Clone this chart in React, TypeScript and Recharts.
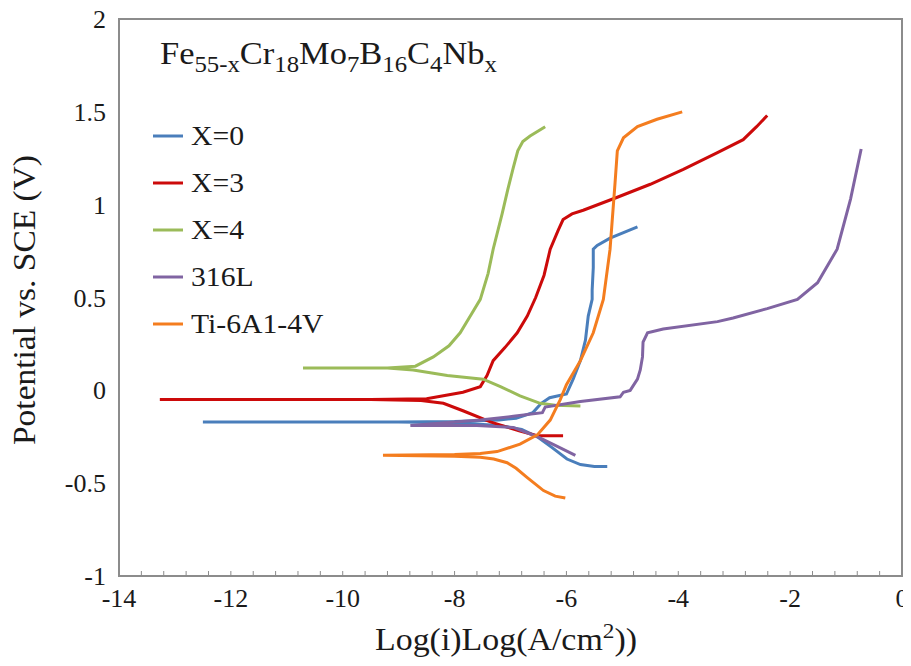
import { LineChart, Line, XAxis, YAxis, ReferenceArea, Legend, Customized } from 'recharts';

// [log(i), potential], cathodic end -> Ecorr tip -> anodic end
const x0Curve = [
  [-5.27, -0.41], [-5.5, -0.41], [-5.75, -0.4], [-5.99, -0.37], [-6.25, -0.31], [-6.52, -0.25],
  [-6.8, -0.21], [-7.2, -0.19], [-8.0, -0.175], [-9.0, -0.17], [-12.5, -0.17],
  [-9.0, -0.17], [-8.0, -0.168], [-7.2, -0.16], [-6.9, -0.15], [-6.6, -0.12], [-6.45, -0.07],
  [-6.3, -0.04], [-6.0, -0.02], [-5.88, 0.06], [-5.75, 0.16], [-5.66, 0.27], [-5.61, 0.4],
  [-5.54, 0.49], [-5.54, 0.54], [-5.52, 0.66], [-5.52, 0.76], [-5.45, 0.78], [-5.22, 0.82],
  [-4.98, 0.85], [-4.73, 0.88],
];

const x3Curve = [
  [-6.06, -0.245], [-6.52, -0.245], [-6.83, -0.22], [-7.36, -0.17], [-7.85, -0.11], [-8.2, -0.07],
  [-8.6, -0.055], [-9.5, -0.05], [-13.27, -0.05],
  [-9.5, -0.05], [-8.5, -0.045], [-7.85, -0.01], [-7.54, 0.02], [-7.42, 0.08], [-7.31, 0.16],
  [-7.1, 0.23], [-6.88, 0.31], [-6.7, 0.4], [-6.55, 0.5], [-6.4, 0.62], [-6.29, 0.76],
  [-6.15, 0.86], [-6.06, 0.92], [-5.9, 0.95], [-5.7, 0.97], [-5.09, 1.04], [-4.5, 1.11],
  [-3.91, 1.19], [-3.3, 1.28], [-2.84, 1.35], [-2.6, 1.42], [-2.41, 1.48],
];

const x4Curve = [
  [-5.75, -0.085], [-6.2, -0.08], [-6.47, -0.07], [-6.83, -0.03], [-7.18, 0.02], [-7.49, 0.06],
  [-8.13, 0.08], [-8.74, 0.11], [-9.2, 0.12], [-10.71, 0.12],
  [-9.2, 0.12], [-8.7, 0.13], [-8.38, 0.18], [-8.1, 0.24], [-7.9, 0.31], [-7.7, 0.41],
  [-7.54, 0.49], [-7.4, 0.63], [-7.31, 0.76], [-7.15, 0.95], [-7.05, 1.08], [-6.95, 1.2],
  [-6.87, 1.29], [-6.78, 1.34], [-6.65, 1.37], [-6.38, 1.42],
];

const ss316Curve = [
  [-5.84, -0.35], [-6.11, -0.31], [-6.52, -0.25], [-6.95, -0.2], [-7.6, -0.19], [-8.79, -0.19],
  [-7.54, -0.16], [-6.95, -0.14], [-6.43, -0.12], [-6.38, -0.09], [-5.75, -0.06], [-5.04, -0.035],
  [-4.98, -0.01], [-4.86, 0.0], [-4.73, 0.06], [-4.68, 0.11], [-4.64, 0.18], [-4.63, 0.26],
  [-4.55, 0.31], [-4.27, 0.33], [-3.3, 0.37], [-3.02, 0.39], [-2.41, 0.44], [-1.87, 0.49],
  [-1.51, 0.58], [-1.16, 0.76], [-0.92, 1.03], [-0.73, 1.3],
];

const tiCurve = [
  [-6.02, -0.58], [-6.2, -0.57], [-6.41, -0.54], [-6.7, -0.47], [-6.9, -0.42], [-7.06, -0.39],
  [-7.3, -0.37], [-7.54, -0.36], [-8.0, -0.355], [-9.28, -0.35],
  [-8.0, -0.345], [-7.54, -0.34], [-7.24, -0.33], [-6.83, -0.29], [-6.52, -0.24], [-6.29, -0.16],
  [-6.11, -0.05], [-6.0, 0.03], [-5.75, 0.16], [-5.52, 0.31], [-5.34, 0.49], [-5.22, 0.76],
  [-5.13, 1.12], [-5.09, 1.29], [-4.98, 1.36], [-4.73, 1.42], [-4.38, 1.46], [-3.93, 1.5],
];

const seriesNames = ['X=0', 'X=3', 'X=4', '316L', 'Ti-6A1-4V'];
const seriesColors = ['#4a7ebb', '#cc0a0a', '#9bbb59', '#8064a2', '#f47d1f'];
const seriesCurves = [x0Curve, x3Curve, x4Curve, ss316Curve, tiCurve];

const xTickLabels = [-14, -12, -10, -8, -6, -4, -2, 0];
const yTickLabels = [-1, -0.5, 0, 0.5, 1, 1.5, 2];

// minor tick marks every 0.4 along the bottom axis
const xMinorTicks = xTickLabels
  .flatMap(t => [0, 0.4, 0.8, 1.2, 1.6].map(d => Math.round((t + d) * 10) / 10))
  .filter(v => v <= 0);

const FONT = "'Liberation Serif', 'Times New Roman', serif";
const AXIS_GRAY = '#8c8c8c';
const INK = '#1a1a1a';

function XTick(props: any) {
  const { x, y, payload } = props;
  if (!xTickLabels.includes(payload.value)) return <g />;
  return (
    <text x={x} y={y + 31} textAnchor="middle" fill={INK} fontFamily={FONT} fontSize={26} className="serif-tick">
      {payload.value}
    </text>
  );
}

function YTick(props: any) {
  const { x, y, payload } = props;
  return (
    <text x={x} y={y + 9} textAnchor="end" fill={INK} fontFamily={FONT} fontSize={26} className="serif-tick">
      {payload.value}
    </text>
  );
}

function Titles() {
  return (
    <g fill={INK} fontFamily={FONT}>
      <text x={152} y={56} fontSize={32} textLength={337} lengthAdjust="spacingAndGlyphs">
        Fe<tspan fontSize={23} dy={8}>55-x</tspan>
        <tspan dy={-8}>Cr</tspan><tspan fontSize={23} dy={8}>18</tspan>
        <tspan dy={-8}>Mo</tspan><tspan fontSize={23} dy={8}>7</tspan>
        <tspan dy={-8}>B</tspan><tspan fontSize={23} dy={8}>16</tspan>
        <tspan dy={-8}>C</tspan><tspan fontSize={23} dy={8}>4</tspan>
        <tspan dy={-8}>Nb</tspan><tspan fontSize={23} dy={8}>x</tspan>
      </text>
      <text x={498} y={642} fontSize={32} textAnchor="middle" textLength={262} lengthAdjust="spacingAndGlyphs">
        Log(i)Log(A/cm<tspan fontSize={22} dy={-12}>2</tspan><tspan dy={12}>))</tspan>
      </text>
      <text
        x={27}
        y={292}
        fontSize={31}
        textAnchor="middle"
        textLength={290}
        lengthAdjust="spacingAndGlyphs"
        transform="rotate(-90 27 292)"
      >
        Potential vs. SCE (V)
      </text>
    </g>
  );
}

function LegendBox() {
  return (
    <div style={{ fontFamily: FONT, fontSize: 28, color: INK, lineHeight: 1 }}>
      {seriesNames.map((name, i) => (
        <div key={name} style={{ display: 'flex', alignItems: 'center', height: 47 }}>
          <svg width={30} height={6} style={{ marginRight: 8 }}>
            <line x1={0} y1={3} x2={30} y2={3} stroke={seriesColors[i]} strokeWidth={3} />
          </svg>
          <span style={{ display: 'inline-block', transform: 'scaleX(1.06)', transformOrigin: 'left center' }}>
            {name}
          </span>
        </div>
      ))}
    </div>
  );
}

export default function App() {
  return (
    <div style={{ position: 'relative', width: 903, height: 650, fontFamily: FONT }}>
      <style>{`.recharts-wrapper text, .serif-tick { font-family: 'Liberation Serif', 'Times New Roman', serif !important; }
.serif-tick { font-size: 26px !important; }`}</style>
      <LineChart width={903} height={650} margin={{ top: 11, right: 9, left: 0, bottom: 0 }}>
        <XAxis
          type="number"
          dataKey="x"
          domain={[-14, 0]}
          ticks={xMinorTicks}
          interval={0}
          allowDataOverflow
          height={82}
          tickSize={-5}
          tickMargin={5}
          tick={(p: any) => <XTick {...p} />}
          axisLine={{ stroke: AXIS_GRAY, strokeWidth: 2 }}
          tickLine={{ stroke: AXIS_GRAY, strokeWidth: 1 }}
        />
        <YAxis
          type="number"
          domain={[-1, 2]}
          ticks={yTickLabels}
          interval={0}
          allowDataOverflow
          width={111}
          tickSize={0}
          tickMargin={13}
          tickLine={false}
          axisLine={{ stroke: AXIS_GRAY, strokeWidth: 2 }}
          tick={(p: any) => <YTick {...p} />}
        />
        <ReferenceArea x1={-14} x2={0} y1={-1} y2={2} fill="none" stroke={AXIS_GRAY} strokeWidth={2} />
        {seriesCurves.map((curve, i) => (
          <Line
            key={seriesNames[i]}
            name={seriesNames[i]}
            data={curve.map(([x, y]) => ({ x, y }))}
            dataKey="y"
            type="linear"
            stroke={seriesColors[i]}
            strokeWidth={3}
            dot={false}
            isAnimationActive={false}
          />
        ))}
        <Legend
          layout="vertical"
          align="center"
          verticalAlign="middle"
          content={<LegendBox />}
          wrapperStyle={{ position: 'absolute', left: 145, top: 104, width: 'auto' }}
        />
        <Customized component={Titles} />
      </LineChart>
    </div>
  );
}
